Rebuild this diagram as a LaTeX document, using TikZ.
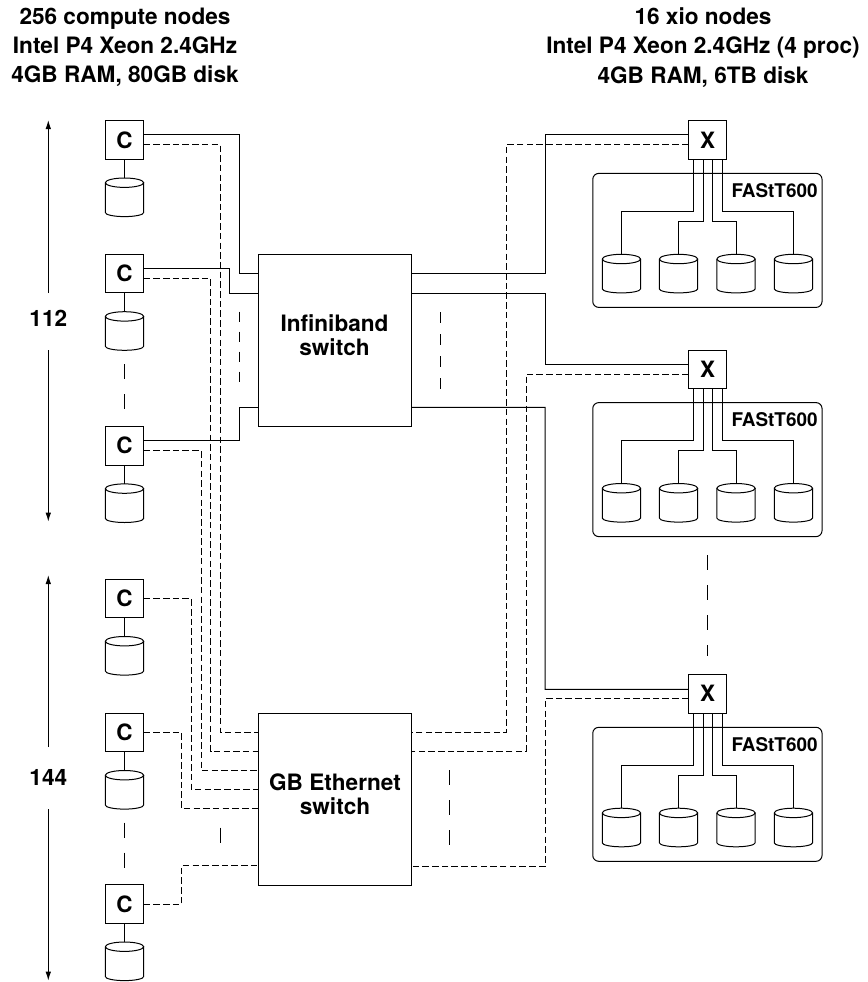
\documentclass[tikz,border=0pt]{standalone}
\usepackage{fontspec}
\setmainfont{TeX Gyre Heros}
\usetikzlibrary{shapes.geometric,arrows.meta,calc}
\tikzset{
  unitbox/.style={draw,line width=1pt,minimum width=38.3pt,minimum height=38.3pt,inner sep=0pt,outer sep=0pt,
    font=\fontsize{22.5}{24}\selectfont\bfseries,text height=16pt,text depth=0pt},
  switchbox/.style={draw,line width=1pt,minimum width=153pt,minimum height=172.4pt,inner sep=0pt,outer sep=0pt},
  arraybox/.style={draw,line width=1pt,rounded corners=6pt,minimum width=229.3pt,minimum height=134pt,inner sep=0pt,outer sep=0pt},
  diskbody/.style={rectangle,minimum width=38.3pt,minimum height=38.6pt,inner sep=0pt,outer sep=0pt},
  bus/.style={line width=1pt},
  eth/.style={line width=1pt,dash pattern=on 6.5pt off 3.2pt},
  more/.style={line width=1pt},
  span/.style={line width=1pt,-{Latex[length=9pt,width=5.5pt]}},
  hdr/.style={align=center,font=\fontsize{22.6}{29.2}\selectfont\bfseries,inner sep=0pt},
  big/.style={font=\fontsize{22.6}{24}\selectfont\bfseries,align=center,inner sep=0pt},
  arr/.style={font=\fontsize{18.9}{20}\selectfont\bfseries,inner sep=0pt,anchor=base east},
}
% a disk: a named node with a cylinder drawn on its outline
\newcommand{\disknode}[3]{%
  \node[diskbody,anchor=north] (#1) at (#2,#3) {};
  \draw[line width=1pt] ([yshift=-4.7pt]#1.north west) arc[start angle=180,end angle=-180,x radius=19.15pt,y radius=4.7pt];
  \draw[line width=1pt] ([yshift=-4.7pt]#1.north west) -- ([yshift=4pt]#1.south west)
    arc[start angle=180,end angle=360,x radius=19.15pt,y radius=4pt] -- ([yshift=-4.7pt]#1.north east);
}
\begin{document}
\begin{tikzpicture}[x=1pt,y=-1pt]
\useasboundingbox (0,0) rectangle (867,982);
% headers
\node[hdr] (hleft) at (125,47.5) {256 compute nodes\\Intel P4 Xeon 2.4GHz\\4GB RAM, 80GB disk};
\node[hdr] (hright) at (703,47.5) {16 xio nodes\\Intel P4 Xeon 2.4GHz (4 proc)\\4GB RAM, 6TB disk};
% compute nodes and disks
\foreach \n/\y in {1/140,2/273.7,3/445.9,4/598.5,5/732.5,6/904}{
  \node[unitbox] (c\n) at (124.5,\y) {C};
  \disknode{dc\n}{124.5}{\y+38}
  \draw[bus] (c\n.south) -- (dc\n.north);
}
% switches
\node[switchbox] (ib) at (334.8,340.5) {};
\node[switchbox] (ge) at (334.8,799.2) {};
\node[big] (ibl) at (334.5,335) {Infiniband\\switch};
\node[big] (gel) at (335,794) {GB Ethernet\\switch};
% ports on the switches
\foreach \n/\y in {1/273.7,2/293,3/407.3}{
  \coordinate (iw\n) at (258.3,\y);
  \coordinate (ie\n) at (411.3,\y);
}
\foreach \n/\y in {1/732.3,2/751.3,3/770.3,4/789.7,5/808.7,6/865.7}{
  \coordinate (gw\n) at (258.3,\y);
}
\foreach \n/\y in {1/732,2/751,3/866}{
  \coordinate (ge\n) at (411.3,\y);
}
% storage nodes
\foreach \n/\y in {1/140,2/369.2,3/693.9}{
  \node[unitbox] (x\n) at (707.5,\y) {X};
  \node[arraybox,anchor=north] (f\n) at (707.4,\y+33.4) {};
  \node[arr] (t\n) at (817.7,\y+57.3) {FAStT600};
  \foreach \m/\dx in {1/621.4,2/678.5,3/736,4/793.4}{
    \disknode{d\n\m}{\dx}{\y+114.3}
  }
  \draw[bus] ([xshift=-14.2pt]x\n.south) -- ++(0,52.3) -| (d\n1.north);
  \draw[bus] ([xshift=-4.5pt]x\n.south) -- ++(0,62) -| (d\n2.north);
  \draw[bus] ([xshift=4.8pt]x\n.south) -- ++(0,62) -| (d\n3.north);
  \draw[bus] ([xshift=14.5pt]x\n.south) -- ++(0,52.3) -| (d\n4.north);
}
% Infiniband links, left
\draw[bus] ([yshift=5.3pt]c1.east) -| (239.3,273.7) -- (iw1);
\draw[bus] ([yshift=5pt]c2.east) -| (229.3,293) -- (iw2);
\draw[bus] ([yshift=5.2pt]c3.east) -| (239.3,407.3) -- (iw3);
% Infiniband links, right
\draw[bus] (ie1) -| (545,134.7) -- ([yshift=5.3pt]x1.west);
\draw[bus] (ie2) -| (545,364.3) -- ([yshift=4.9pt]x2.west);
\draw[bus] (ie3) -| (545,689.3) -- ([yshift=4.6pt]x3.west);
% Ethernet links, left
\draw[eth] ([yshift=-4.3pt]c1.east) -| (220,732.3) -- (gw1);
\draw[eth] ([yshift=-4.6pt]c2.east) -| (210.5,751.3) -- (gw2);
\draw[eth] ([yshift=-4.4pt]c3.east) -| (201,770.3) -- (gw3);
\draw[eth] ([yshift=0pt]c4.east) -| (191.3,789.7) -- (gw4);
\draw[eth] ([yshift=0pt]c5.east) -| (181.7,808.7) -- (gw5);
\draw[eth] ([yshift=0pt]c6.east) -| (181.7,865.7) -- (gw6);
% Ethernet links, right
\draw[eth] ([yshift=-4.3pt]x1.west) -| (506.7,732) -- (ge1);
\draw[eth] ([yshift=-4.8pt]x2.west) -| (526,751) -- (ge2);
\draw[eth] ([yshift=-4.8pt]x3.west) -| (545,866) -- (ge3);
% continuation marks
\draw[more,dash pattern=on 10pt off 10pt] (239.3,311.7) coordinate (m1a) -- (239.3,382) coordinate (m1b);
\draw[more,dash pattern=on 11pt off 11pt] (440,312) coordinate (m2a) -- (440,389) coordinate (m2b);
\draw[more,dash pattern=on 15pt off 15pt] (124.5,364) coordinate (m3a) -- (124.5,410) coordinate (m3b);
\draw[more,dash pattern=on 15pt off 15pt] (220,827.7) coordinate (m4a) -- (220,842.7) coordinate (m4b);
\draw[more,dash pattern=on 15pt off 15pt] (124.5,822.7) coordinate (m5a) -- (124.5,868.5) coordinate (m5b);
\draw[more,dash pattern=on 15pt off 15pt] (449.3,770) coordinate (m6a) -- (449.3,846) coordinate (m6b);
\draw[more,dash pattern=on 15pt off 15pt] (707,555) coordinate (m7a) -- (707,656) coordinate (m7b);
% span arrows
\node[big] (n112) at (48.3,318) {112};
\node[big] (n144) at (48.3,777) {144};
\coordinate (a1a) at (48.3,293); \coordinate (a1b) at (48.3,120);
\coordinate (a2a) at (48.3,350); \coordinate (a2b) at (48.3,521.7);
\coordinate (a3a) at (48.3,747); \coordinate (a3b) at (48.3,575);
\coordinate (a4a) at (48.3,809); \coordinate (a4b) at (48.3,980.7);
\draw[span] (a1a) -- (a1b);
\draw[span] (a2a) -- (a2b);
\draw[span] (a3a) -- (a3b);
\draw[span] (a4a) -- (a4b);
\end{tikzpicture}
\end{document}
